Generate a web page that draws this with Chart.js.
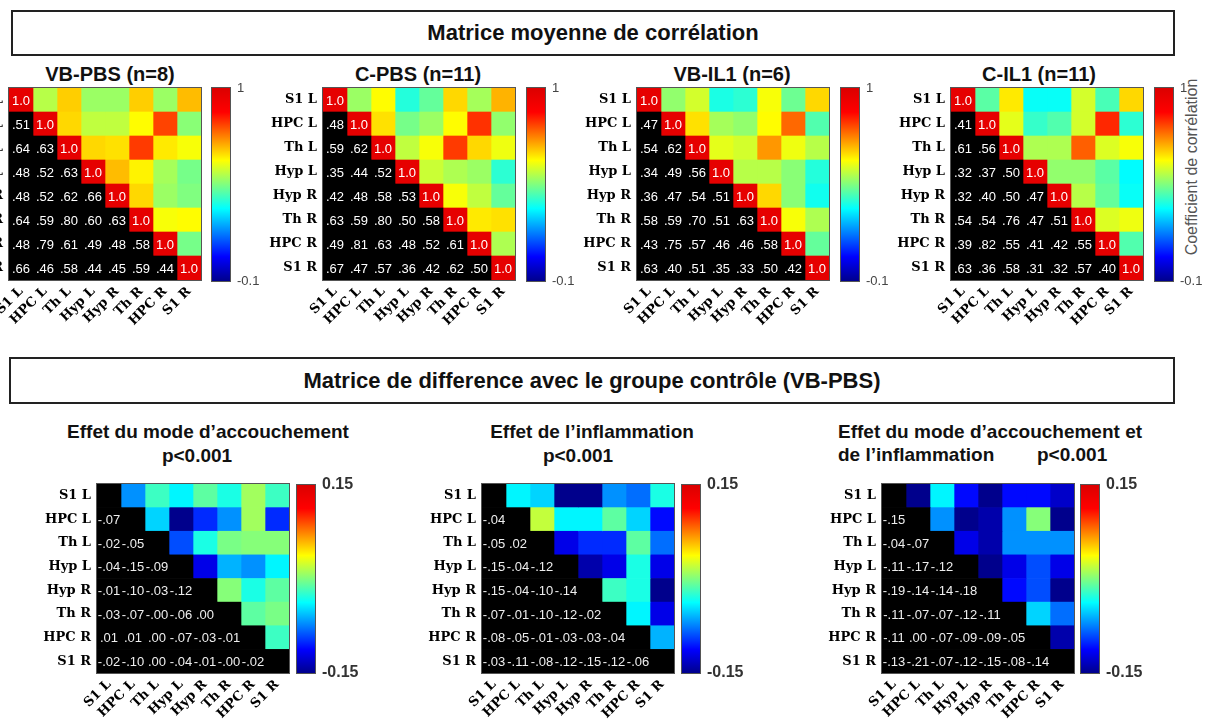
<!DOCTYPE html>
<html>
<head>
<meta charset="utf-8">
<script src="https://cdn.jsdelivr.net/npm/chart.js@4.4.1/dist/chart.umd.min.js"></script>
<style>
  body { margin: 0; background: #fff; }
  #fig { position: relative; width: 1209px; height: 724px; overflow: hidden; background: #fff; font-family: "Liberation Sans", Arial, sans-serif; }
  #fig canvas { position: absolute; }
  .box { position: absolute; box-sizing: border-box; border: 2px solid #222; text-align: center; font-weight: bold; font-size: 22px; color: #111; }
  .t { position: absolute; white-space: nowrap; font-weight: bold; color: #111; }
</style>
</head>
<body>
<div id="fig">
  <div class="box" style="left:11px;top:10px;width:1164px;height:46px;line-height:42px">Matrice moyenne de corrélation</div>
  <div class="box" style="left:9px;top:357px;width:1166px;height:47px;line-height:43px">Matrice de difference avec le groupe contrôle (VB-PBS)</div>

  <div class="t" style="left:10px;width:200px;top:63px;font-size:20px;text-align:center">VB-PBS (n=8)</div>
  <div class="t" style="left:318px;width:200px;top:63px;font-size:20px;text-align:center">C-PBS (n=11)</div>
  <div class="t" style="left:632px;width:200px;top:63px;font-size:20px;text-align:center">VB-IL1 (n=6)</div>
  <div class="t" style="left:939px;width:200px;top:63px;font-size:20px;text-align:center">C-IL1 (n=11)</div>
  <div style="position:absolute;left:1092px;top:158px;width:200px;text-align:center;font-size:16px;color:#555;transform:rotate(-90deg)">Coefficient de corrélation</div>

  <div class="t" style="left:58px;width:300px;top:421px;font-size:19px;text-align:center">Effet du mode d’accouchement</div>
  <div class="t" style="left:97px;width:200px;top:445px;font-size:19px;text-align:center">p&lt;0.001</div>
  <div class="t" style="left:442px;width:300px;top:421px;font-size:19px;text-align:center">Effet de l’inflammation</div>
  <div class="t" style="left:478px;width:200px;top:445px;font-size:19px;text-align:center">p&lt;0.001</div>
  <div class="t" style="left:838px;top:421px;font-size:19px">Effet du mode d’accouchement et</div>
  <div class="t" style="left:838px;top:444px;font-size:19px">de l’inflammation</div>
  <div class="t" style="left:1037px;top:444px;font-size:19px">p&lt;0.001</div>
</div>

<script>
// régions (lignes / colonnes)
const regions = ['S1 L', 'HPC L', 'Th L', 'Hyp L', 'Hyp R', 'Th R', 'HPC R', 'S1 R'];

// triangle inférieur de chaque matrice (ligne 2 à 8)
const vbPbs = [
  [.51],
  [.64, .63],
  [.48, .52, .63],
  [.48, .52, .62, .66],
  [.64, .59, .80, .60, .63],
  [.48, .79, .61, .49, .48, .58],
  [.66, .46, .58, .44, .45, .59, .44]
];
const cPbs = [
  [.48],
  [.59, .62],
  [.35, .44, .52],
  [.42, .48, .58, .53],
  [.63, .59, .80, .50, .58],
  [.49, .81, .63, .48, .52, .61],
  [.67, .47, .57, .36, .42, .62, .50]
];
const vbIl1 = [
  [.47],
  [.54, .62],
  [.34, .49, .56],
  [.36, .47, .54, .51],
  [.58, .59, .70, .51, .63],
  [.43, .75, .57, .46, .46, .58],
  [.63, .40, .51, .35, .33, .50, .42]
];
const cIl1 = [
  [.41],
  [.61, .56],
  [.32, .37, .50],
  [.32, .40, .50, .47],
  [.54, .54, .76, .47, .51],
  [.39, .82, .55, .41, .42, .55],
  [.63, .36, .58, .31, .32, .57, .40]
];
const diffAccouchement = [
  [-.07],
  [-.02, -.05],
  [-.04, -.15, -.09],
  [-.01, -.10, -.03, -.12],
  [-.03, -.07, -.002, -.06, .002],
  [.01, .01, .002, -.07, -.03, -.01],
  [-.02, -.10, .002, -.04, -.01, -.002, -.02]
];
const diffInflammation = [
  [-.04],
  [-.05, .02],
  [-.15, -.04, -.12],
  [-.15, -.04, -.10, -.14],
  [-.07, -.01, -.10, -.12, -.02],
  [-.08, -.05, -.01, -.03, -.03, -.04],
  [-.03, -.11, -.08, -.12, -.15, -.12, -.06]
];
const diffLesDeux = [
  [-.15],
  [-.04, -.07],
  [-.11, -.17, -.12],
  [-.19, -.14, -.14, -.18],
  [-.11, -.07, -.07, -.12, -.11],
  [-.11, .002, -.07, -.09, -.09, -.05],
  [-.13, -.21, -.07, -.12, -.15, -.08, -.14]
];

// échelles de couleur
const corrRange = [-0.1, 1];
const diffRange = [-0.15, 0.15];

// jet (MATLAB)
const jetStops = [
  [0, [0, 0, 0.55]], [0.125, [0, 0, 1]], [0.375, [0, 1, 1]],
  [0.625, [1, 1, 0]], [0.875, [1, 0, 0]], [1, [0.86, 0, 0]]
];
function jet(t) {
  t = Math.max(0, Math.min(1, t));
  for (let k = 1; k < jetStops.length; k++) {
    const [t1, c1] = jetStops[k];
    const [t0, c0] = jetStops[k - 1];
    if (t <= t1) {
      const f = (t - t0) / (t1 - t0);
      const c = c0.map((v, n) => Math.round(255 * (v + (c1[n] - v) * f)));
      return 'rgb(' + c.join(',') + ')';
    }
  }
}
function rgbStr(c) { return 'rgb(' + c.map(v => Math.round(v * 255)).join(',') + ')'; }

const serif = { family: '"DejaVu Serif", serif', weight: 'bold', size: 13 };

// texte dans les cases
const cellTextPlugin = {
  id: 'cellText',
  afterDatasetsDraw(chart) {
    const ctx = chart.ctx;
    ctx.save();
    ctx.font = '13px "Liberation Sans", Arial, sans-serif';
    ctx.textAlign = 'center';
    ctx.textBaseline = 'middle';
    chart.data.datasets.forEach((ds, j) => {
      chart.getDatasetMeta(j).data.forEach((bar, i) => {
        const txt = ds.texts[i];
        if (!txt) return;
        const p = bar.getCenterPoint();
        ctx.fillStyle = ds.textColor;
        ctx.fillText(txt, p.x, p.y + 1);
      });
    });
    ctx.restore();
  }
};

// cadre autour de la zone
const framePlugin = {
  id: 'frame',
  afterDraw(chart) {
    const a = chart.chartArea, ctx = chart.ctx;
    ctx.save();
    ctx.strokeStyle = '#555';
    ctx.lineWidth = 1;
    ctx.strokeRect(Math.round(a.left) - 0.5, Math.round(a.top) - 0.5, Math.round(a.right - a.left) + 1, Math.round(a.bottom - a.top) + 1);
    ctx.restore();
  }
};

function fmt(v) { return v.toFixed(2).replace('0.', '.'); }

function heatmap(left, top, w, h, lower, range, isCorr) {
  const cv = document.createElement('canvas');
  cv.width = 90 + w + 2;
  cv.height = 2 + h + 70;
  cv.style.left = (left - 90) + 'px';
  cv.style.top = (top - 2) + 'px';
  document.getElementById('fig').appendChild(cv);

  const datasets = regions.map((col, j) => ({
    data: regions.map(() => 1),
    backgroundColor: regions.map((row, i) => {
      if (i === j) return isCorr ? '#e60000' : '#000';
      if (i > j) return '#000';
      return jet((lower[j - 1][i] - range[0]) / (range[1] - range[0]));
    }),
    texts: regions.map((row, i) => {
      if (i === j) return isCorr ? '1.0' : '';
      if (i > j) return fmt(lower[i - 1][j]);
      return '';
    }),
    textColor: isCorr ? '#fff' : '#eee',
    borderWidth: 0,
    barPercentage: 1,
    categoryPercentage: 1,
    stack: 'm'
  }));

  new Chart(cv, {
    type: 'bar',
    data: { labels: regions, datasets: datasets },
    options: {
      indexAxis: 'y',
      responsive: false,
      animation: false,
      devicePixelRatio: 1,
      layout: { padding: { top: 2, right: 2, left: 0, bottom: 0 } },
      plugins: { legend: { display: false }, tooltip: { enabled: false } },
      scales: {
        x: {
          type: 'linear', min: 0, max: regions.length, stacked: true,
          grid: { display: false, drawTicks: false }, border: { display: false },
          afterBuildTicks: s => { s.ticks = regions.map((r, k) => ({ value: k + 0.5 })); },
          afterFit: s => { s.height = 70; s.paddingLeft = 0; s.paddingRight = 0; },
          ticks: {
            autoSkip: false, minRotation: 45, maxRotation: 45, padding: 4,
            color: '#000', font: serif,
            callback: v => regions[Math.floor(v)]
          }
        },
        y: {
          type: 'category', stacked: true,
          grid: { display: false, drawTicks: false }, border: { display: false },
          afterFit: s => { s.width = 90; s.paddingTop = 0; s.paddingBottom = 0; },
          ticks: { padding: 6, color: '#000', font: serif }
        }
      }
    },
    plugins: [cellTextPlugin, framePlugin]
  });
}

function colorbar(left, top, w, h, range, font, color) {
  const cv = document.createElement('canvas');
  cv.width = w + 60;
  cv.height = h + 20;
  cv.style.left = left + 'px';
  cv.style.top = (top - 10) + 'px';
  document.getElementById('fig').appendChild(cv);

  new Chart(cv, {
    type: 'bar',
    data: {
      labels: [''],
      datasets: [{
        data: [range],
        backgroundColor: c => {
          const a = c.chart.chartArea;
          if (!a) return null;
          const g = c.chart.ctx.createLinearGradient(0, a.bottom, 0, a.top);
          jetStops.forEach(s => g.addColorStop(s[0], rgbStr(s[1])));
          return g;
        },
        borderWidth: 0,
        barPercentage: 1,
        categoryPercentage: 1
      }]
    },
    options: {
      responsive: false,
      animation: false,
      devicePixelRatio: 1,
      layout: { padding: { top: 10, bottom: 10, left: 1, right: 0 } },
      plugins: { legend: { display: false }, tooltip: { enabled: false } },
      scales: {
        x: { display: false },
        y: {
          position: 'right', min: range[0], max: range[1],
          grid: { display: false, drawTicks: false }, border: { display: false },
          afterBuildTicks: s => { s.ticks = range.map(v => ({ value: v })); },
          afterFit: s => { s.width = 60 - 1; s.paddingTop = 0; s.paddingBottom = 0; },
          ticks: { padding: 7, color: color, font: font, callback: v => String(v) }
        }
      }
    },
    plugins: [framePlugin]
  });
}

const cbTop = { family: '"Liberation Sans", Arial, sans-serif', size: 13 };
const cbBottom = { family: '"Liberation Sans", Arial, sans-serif', size: 16, weight: 'bold' };

heatmap(9, 88, 192, 192, vbPbs, corrRange, true);
heatmap(323, 88, 192, 192, cPbs, corrRange, true);
heatmap(637, 88, 192, 192, vbIl1, corrRange, true);
heatmap(951, 88, 192, 192, cIl1, corrRange, true);
colorbar(211, 88, 18, 193, corrRange, cbTop, '#444');
colorbar(526, 88, 18, 193, corrRange, cbTop, '#444');
colorbar(840, 88, 18, 193, corrRange, cbTop, '#444');
colorbar(1154, 88, 18, 193, corrRange, cbTop, '#444');

heatmap(97, 484, 192, 189, diffAccouchement, diffRange, false);
heatmap(482, 484, 192, 189, diffInflammation, diffRange, false);
heatmap(882, 484, 192, 189, diffLesDeux, diffRange, false);
colorbar(296, 485, 18, 188, diffRange, cbBottom, '#333');
colorbar(681, 485, 18, 188, diffRange, cbBottom, '#333');
colorbar(1080, 485, 18, 188, diffRange, cbBottom, '#333');
</script>
</body>
</html>
